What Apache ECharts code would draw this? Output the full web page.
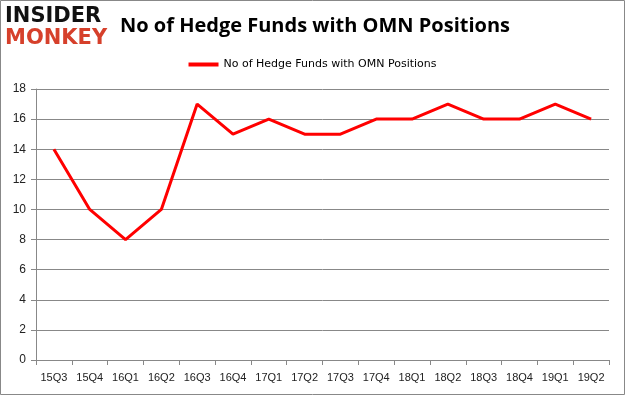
<!DOCTYPE html>
<html><head><meta charset="utf-8">
<script src="https://cdn.jsdelivr.net/npm/echarts@6/dist/echarts.min.js"></script>
<style>html,body{margin:0;padding:0;background:#fff}#c{width:625px;height:395px}</style>
</head><body><div id="c"></div>
<script>
const categories = ['15Q3','15Q4','16Q1','16Q2','16Q3','16Q4','17Q1','17Q2','17Q3','17Q4','18Q1','18Q2','18Q3','18Q4','19Q1','19Q2'];
const hedgeFunds = [14,10,8,10,17,15,16,15,15,16,16,17,16,16,17,16];
const seriesName = 'No of Hedge Funds with OMN Positions';

const chart = echarts.init(document.getElementById('c'));
chart.setOption({
  animation: false,
  backgroundColor: '#fff',
  title: {
    text: 'No of Hedge Funds with OMN Positions',
    left: 115, top: 11,
    textStyle: {fontFamily: 'Open Sans', fontWeight: 'bold', fontSize: 20, color: '#000'}
  },
  legend: {
    data: [seriesName], top: 54, left: 'center',
    itemWidth: 30, itemHeight: 4, icon: 'rect', itemGap: 4,
    textStyle: {fontFamily: 'DejaVu Sans', fontSize: 11, color: '#000'}
  },
  grid: {left: 36, right: 16, top: 89, bottom: 35, containLabel: false},
  xAxis: {
    type: 'category', data: categories, boundaryGap: true,
    axisLine: {lineStyle: {color: '#888'}},
    axisTick: {show: true, alignWithLabel: false, length: 5, lineStyle: {color: '#888'}},
    axisLabel: {fontFamily: 'Liberation Sans', fontSize: 11, color: '#222', margin: 12}
  },
  yAxis: {
    type: 'value', min: 0, max: 18, interval: 2,
    axisLine: {show: true, lineStyle: {color: '#888'}},
    axisTick: {show: true, length: 5, lineStyle: {color: '#888'}},
    splitLine: {lineStyle: {color: '#888'}},
    axisLabel: {fontFamily: 'Liberation Sans', fontSize: 12, color: '#222', margin: 10}
  },
  graphic: [
    {type: 'rect', shape: {x: 0.5, y: 0.5, width: 624, height: 394}, style: {fill: 'none', stroke: '#888', lineWidth: 1}},
    {type: 'text', left: 5, top: 6, style: {text: 'INSIDER', fontFamily: 'DejaVu Sans', fontWeight: 'bold', fontSize: 21, fill: '#111'}},
    {type: 'text', left: 5, top: 28, style: {text: 'MONKEY', fontFamily: 'DejaVu Sans', fontWeight: 'bold', fontSize: 21, fill: '#d6402b'}}
  ],
  series: [{
    name: seriesName, type: 'line', data: hedgeFunds,
    symbol: 'none', lineStyle: {color: '#ff0000', width: 3}, itemStyle: {color: '#ff0000'}
  }]
});
</script></body></html>
